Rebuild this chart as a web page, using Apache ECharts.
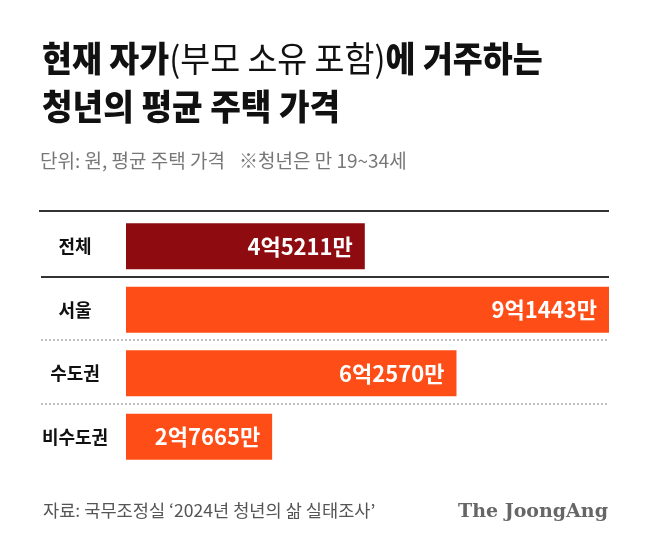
<!DOCTYPE html>
<html>
<head>
<meta charset="utf-8">
<script src="https://cdn.jsdelivr.net/npm/echarts@6/dist/echarts.min.js"></script>
<style>
  html, body { margin: 0; padding: 0; background: #fff; }
  #chart { width: 650px; height: 551px; }
</style>
</head>
<body>
<div id="chart"></div>
<script>
// 단위: 만원
var categories = ['전체', '서울', '수도권', '비수도권'];
var values = [45211, 91443, 62570, 27665];

var FONT = '"Noto Sans CJK KR", "Noto Sans", sans-serif';

var dom = document.getElementById('chart');
var myChart = echarts.init(dom);

function toWon(v) {
    // 45211 -> 4억5211만
    return Math.floor(v / 10000) + '억' + (v % 10000) + '만';
}

var option = {
    backgroundColor: '#fff',
    animation: false,
    grid: {
        left: 126,
        right: 41,
        top: 214.5,
        height: 254,
        containLabel: false
    },
    xAxis: {
        type: 'value',
        min: 0,
        max: Math.max.apply(null, values),
        show: false
    },
    yAxis: {
        type: 'category',
        inverse: true,
        data: categories,
        axisLine: { show: false },
        axisTick: { show: false },
        splitLine: { show: false },
        axisLabel: {
            align: 'center',
            margin: 51,
            color: '#111',
            fontSize: 18,
            fontWeight: 'bold',
            fontFamily: FONT
        }
    },
    series: [{
        type: 'bar',
        data: values,
        barWidth: 46,
        itemStyle: {
            color: function (p) {
                return p.dataIndex === 0 ? '#8e0b10' : '#ff4d17';
            }
        },
        label: {
            show: true,
            position: 'insideRight',
            distance: 12,
            color: '#fff',
            fontSize: 22,
            fontWeight: 'bold',
            fontFamily: FONT,
            formatter: function (p) { return toWon(p.value); }
        }
    }]
};
myChart.setOption(option);

// 구분선: 카테고리 경계 위치를 축에서 계산
var c0 = myChart.convertToPixel({ yAxisIndex: 0 }, categories[0]);
var c1 = myChart.convertToPixel({ yAxisIndex: 0 }, categories[1]);
var band = c1 - c0;
var lines = [];
for (var i = 0; i < categories.length; i++) {
    var edge = Math.round(myChart.convertToPixel({ yAxisIndex: 0 }, categories[i]) - band / 2 - 1.5);
    if (i === 0) edge -= 2;
    var solid = i < 2;
    lines.push({
        type: 'line',
        shape: { x1: i === 0 ? 39 : 41, y1: edge, x2: 609, y2: edge },
        style: solid
            ? { stroke: '#333', lineWidth: 2 }
            : { stroke: '#999', lineWidth: 1.2, lineDash: [2, 2] }
    });
}

var texts = [
    {
        type: 'text', x: 42, y: 59, scaleX: 0.93,
        style: {
            text: '{b|현재 자가}{n|(부모 소유 포함)}{b|에 거주하는}',
            textAlign: 'left', textVerticalAlign: 'middle',
            rich: {
                b: { fontSize: 35, fontWeight: 900, fontFamily: FONT, fill: '#111' },
                n: { fontSize: 35, fontWeight: 'normal', fontFamily: FONT, fill: '#111' }
            }
        }
    },
    {
        type: 'text', x: 42, y: 107, scaleX: 0.95,
        style: {
            text: '청년의 평균 주택 가격',
            fontSize: 35, fontWeight: 900, fontFamily: FONT, fill: '#111',
            textAlign: 'left', textVerticalAlign: 'middle'
        }
    },
    {
        type: 'text', x: 40, y: 161,
        style: {
            text: '단위: 원, 평균 주택 가격',
            fontSize: 19, fontFamily: FONT, fill: '#777',
            textAlign: 'left', textVerticalAlign: 'middle'
        }
    },
    {
        type: 'text', x: 239, y: 161,
        style: {
            text: '※청년은 만 19~34세',
            fontSize: 19, fontFamily: FONT, fill: '#777',
            textAlign: 'left', textVerticalAlign: 'middle'
        }
    },
    {
        type: 'text', x: 43, y: 511, scaleX: 1.035,
        style: {
            text: '자료: 국무조정실 ‘2024년 청년의 삶 실태조사’',
            fontSize: 17, fontFamily: FONT, fill: '#555',
            textAlign: 'left', textVerticalAlign: 'middle'
        }
    },
    {
        type: 'text', x: 458, y: 512,
        style: {
            text: 'The JoongAng',
            fontSize: 19, fontWeight: 'bold', fontFamily: '"DejaVu Serif", serif', fill: '#666',
            textAlign: 'left', textVerticalAlign: 'middle'
        }
    }
];

myChart.setOption({ graphic: lines.concat(texts) });
</script>
</body>
</html>
